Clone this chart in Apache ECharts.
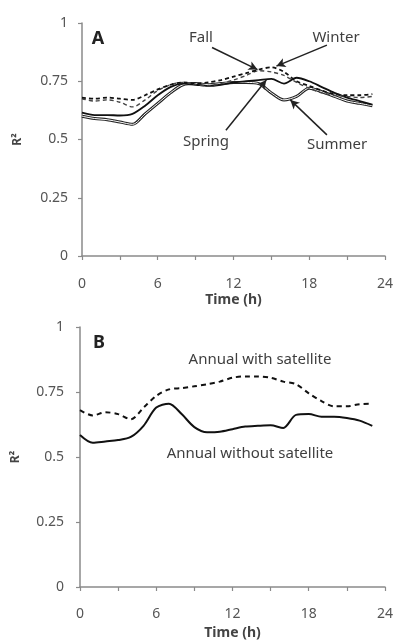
<!DOCTYPE html>
<html>
<head>
<meta charset="utf-8">
<script src="https://cdn.jsdelivr.net/npm/echarts@6/dist/echarts.min.js"></script>
<style>
  html, body { margin: 0; padding: 0; background: #fff; }
  #chart { width: 396px; height: 641px; }
</style>
</head>
<body>
<div id="chart"></div>
<script>
// Hour of day, 0..23
const hours = [0,1,2,3,4,5,6,7,8,9,10,11,12,13,14,15,16,17,18,19,20,21,22,23];

// Panel A: seasonal R² by hour
const winter = [0.68,0.675,0.68,0.675,0.67,0.69,0.715,0.735,0.745,0.74,0.745,0.755,0.77,0.785,0.80,0.81,0.79,0.75,0.73,0.71,0.695,0.69,0.69,0.695];
const fall   = [0.675,0.665,0.67,0.66,0.64,0.67,0.71,0.735,0.745,0.735,0.73,0.74,0.755,0.775,0.795,0.79,0.775,0.745,0.72,0.70,0.69,0.685,0.68,0.685];
const spring = [0.615,0.605,0.605,0.603,0.61,0.645,0.69,0.725,0.74,0.735,0.73,0.735,0.745,0.75,0.755,0.76,0.74,0.765,0.75,0.725,0.70,0.68,0.665,0.65];
const summer = [0.60,0.59,0.585,0.575,0.565,0.61,0.655,0.70,0.735,0.74,0.735,0.74,0.745,0.745,0.74,0.70,0.67,0.685,0.72,0.705,0.685,0.665,0.655,0.645];

// Panel B: annual R² by hour
const withSatellite    = [0.68,0.66,0.672,0.665,0.645,0.69,0.735,0.76,0.765,0.772,0.78,0.79,0.805,0.81,0.81,0.805,0.79,0.78,0.745,0.715,0.695,0.695,0.703,0.705];
const withoutSatellite = [0.585,0.555,0.56,0.565,0.577,0.62,0.69,0.705,0.665,0.615,0.595,0.597,0.607,0.617,0.62,0.622,0.612,0.662,0.665,0.655,0.655,0.65,0.64,0.62];

// Axis ticks
const xTicks = [0, 6, 12, 18, 24];
const yTicks = [0, 0.25, 0.5, 0.75, 1];

// Arrow callouts for panel A, in data units: [fromHour, fromR2, toHour, toR2]
const arrowFall   = [10.3, 0.895, 13.9, 0.80];
const arrowWinter = [19.4, 0.905, 15.4, 0.815];
const arrowSpring = [11.4, 0.54, 14.6, 0.755];
const arrowSummer = [19.4, 0.52, 16.5, 0.67];

const pair = h => hours.map((x, i) => [x, h[i]]);
const FONT = 'Noto Sans';
const AXIS = '#8a8a8a';
const TXT = '#555';

function xAxisCfg(gridIndex, labelMargin, nameGap) {
  return {
    type: 'value', gridIndex, min: 0, max: 24, interval: 6,
    name: 'Time (h)', nameLocation: 'middle', nameGap,
    nameTextStyle: { fontFamily: FONT, fontSize: 14, fontWeight: 'bold', color: '#444' },
    axisLine: { lineStyle: { color: AXIS, width: 1.5 } },
    axisTick: { show: true, length: 4, lineStyle: { color: AXIS, width: 1.2 } },
    minorTick: { show: true, splitNumber: 2, length: 4, lineStyle: { color: AXIS, width: 1.2 } },
    splitLine: { show: false },
    axisLabel: { margin: labelMargin, fontFamily: FONT, fontSize: 14, color: TXT,
      formatter: v => xTicks.includes(v) ? String(v) : '' }
  };
}
function yAxisCfg(gridIndex, labelMargin) {
  return {
    type: 'value', gridIndex, min: 0, max: 1, interval: 0.25,
    name: 'R²', nameLocation: 'middle', nameGap: 58, nameRotate: 90,
    nameTextStyle: { fontFamily: FONT, fontSize: 12, fontWeight: 'bold', color: '#444' },
    axisLine: { show: true, lineStyle: { color: AXIS, width: 1.5 } },
    axisTick: { show: true, length: 4, lineStyle: { color: AXIS, width: 1.2 } },
    splitLine: { show: false },
    axisLabel: { margin: labelMargin, fontFamily: FONT, fontSize: 14, color: TXT,
      formatter: v => yTicks.includes(v) ? String(v) : '' }
  };
}
function lineSeries(name, data, gi, style, extra) {
  return Object.assign({
    name, type: 'line', xAxisIndex: gi, yAxisIndex: gi,
    data: pair(data), showSymbol: false, smooth: 0.3,
    lineStyle: style, z: 3, silent: true
  }, extra || {});
}
function arrow(a) {
  return [{ coord: [a[0], a[1]] }, { coord: [a[2], a[3]] }];
}

const chart = echarts.init(document.getElementById('chart'), null, { renderer: 'canvas' });
const txt = (x, y, s, opts) => ({
  type: 'text', x, y,
  style: Object.assign({ text: s, fontFamily: FONT, fontSize: 15, fill: '#3f3f3f',
    align: 'center', verticalAlign: 'middle' }, opts || {})
});

chart.setOption({
  animation: false,
  backgroundColor: '#fff',
  grid: [
    { left: 82, right: 9, top: 23, height: 233 },
    { left: 80, right: 9, top: 327, height: 260 }
  ],
  xAxis: [xAxisCfg(0, 21, 37), xAxisCfg(1, 20, 39)],
  yAxis: [yAxisCfg(0, 14), yAxisCfg(1, 16)],
  series: [
    // Summer drawn as an outlined (hollow) line
    lineSeries('Summer', summer, 0, { color: '#222', width: 3 }),
    lineSeries('Summer inner', summer, 0, { color: '#fff', width: 1 }),
    lineSeries('Spring', spring, 0, { color: '#111', width: 1.8 }),
    lineSeries('Fall', fall, 0, { color: '#444', width: 1.4, type: [4, 3] }),
    lineSeries('Winter', winter, 0, { color: '#111', width: 1.8, type: [4, 3] }, {
      markLine: {
        silent: true, symbol: ['none', 'arrow'], symbolSize: [7, 9],
        label: { show: false },
        lineStyle: { color: '#222', width: 1.5, type: 'solid' },
        data: [arrow(arrowFall), arrow(arrowWinter), arrow(arrowSpring), arrow(arrowSummer)]
      }
    }),
    lineSeries('Annual with satellite', withSatellite, 1, { color: '#111', width: 2, type: [5, 4] }),
    lineSeries('Annual without satellite', withoutSatellite, 1, { color: '#111', width: 2 })
  ],
  graphic: [
    txt(98, 39, 'A', { fontSize: 18, fontWeight: 'bold', fill: '#222' }),
    txt(99, 343, 'B', { fontSize: 18, fontWeight: 'bold', fill: '#222' }),
    txt(201, 38, 'Fall'),
    txt(336, 38, 'Winter'),
    txt(206, 142, 'Spring'),
    txt(337, 145, 'Summer'),
    txt(260, 360, 'Annual with satellite'),
    txt(250, 454, 'Annual without satellite')
  ]
});
</script>
</body>
</html>
